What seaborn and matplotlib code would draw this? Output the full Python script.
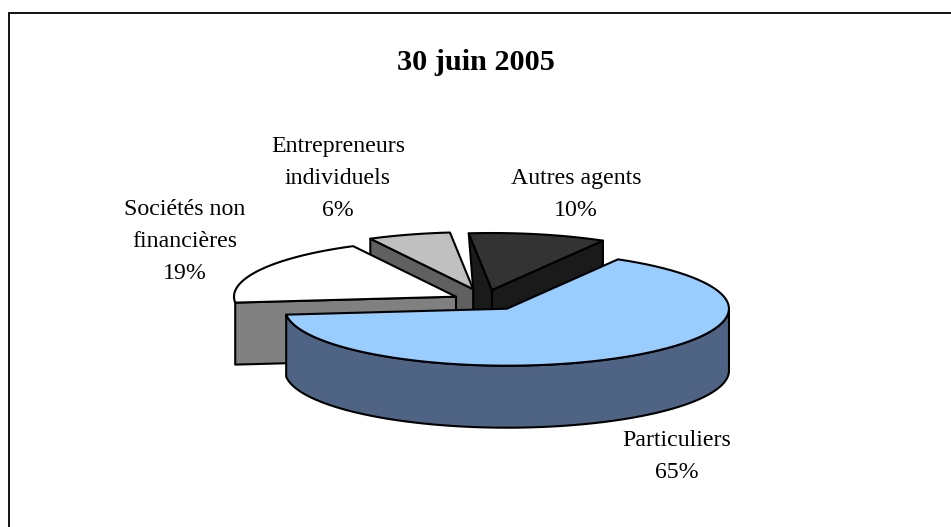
import numpy as np
import pandas as pd
import matplotlib
matplotlib.use("Agg")
import matplotlib.pyplot as plt
import seaborn as sns

labels = ["Particuliers", "Sociétés non\nfinancières", "Entrepreneurs\nindividuels", "Autres agents"]
shares = [65, 19, 6, 10]
title = "30 juin 2005"

top_colors = ["#99ccff", "#ffffff", "#c0c0c0", "#333333"]
rim_colors = ["#4f6484", "#808080", "#606060", "#1a1a1a"]

sns.set_theme(style="white")
plt.rcParams["font.family"] = ["Liberation Serif", "DejaVu Serif"]

df = pd.DataFrame({"label": labels, "share": shares, "top": top_colors, "rim": rim_colors})

# pie is squashed by hand, so axes are just figure pixels
cx, cy = 487.5, 301
ax_r, ay_r = 222, 57
depth = 62
explode = 0.161
start = 60.0

# each slice runs clockwise, first one goes through the front
ends = start - np.cumsum(df.share.values) * 3.6
starts = ends + df.share.values * 3.6
starts[1:] += 360
ends[1:] += 360
df["t0"] = starts
df["t1"] = ends
df["mid"] = np.radians((starts + ends) / 2)
# small slices sit a bit closer in than the explode alone gives
df["ox"] = cx + explode * ax_r * np.cos(df.mid) + np.array([0, 0, -4, -3])
df["oy"] = cy - explode * ay_r * np.sin(df.mid) + np.array([0, 0, -3, -2])


def rim(row, a, b):
    t = np.radians(np.linspace(a, b, 80))
    return np.c_[row.ox + ax_r * np.cos(t), row.oy - ay_r * np.sin(t)]


def down(pts):
    return pts + np.array([0, depth])


def face(ax, pts, color, z):
    ax.fill(pts[:, 0], pts[:, 1], facecolor=color, edgecolor="black", lw=1.5, joinstyle="round", zorder=z)


fig, ax = plt.subplots(figsize=(9.51, 5.27), dpi=100)
fig.subplots_adjust(0, 0, 1, 1)
ax.set_xlim(0, 951)
ax.set_ylim(527, 0)
ax.axis("off")

part, soc, ent, aut = [df.iloc[i] for i in range(4)]
apex = lambda r: np.array([[r.ox, r.oy]])

# autres agents, back slice
p = rim(aut, aut.t1, aut.t1)[:1]
face(ax, np.vstack([p, apex(aut), down(apex(aut)), down(p)]), aut.rim, 1)
p = rim(aut, aut.t0, aut.t0)[:1]
face(ax, np.vstack([p, apex(ent), down(apex(ent)), down(apex(aut)), apex(aut)]), aut.rim, 1)
face(ax, np.vstack([apex(aut), rim(aut, aut.t0, aut.t1)]), aut.top, 2)

# entrepreneurs
p = rim(ent, ent.t0, ent.t0)[:1]
face(ax, np.vstack([p, apex(ent), down(apex(ent)), down(p)]), ent.rim, 3)
face(ax, np.vstack([apex(ent), rim(ent, ent.t0, ent.t1)]), ent.top, 4)

# societes
p = rim(soc, soc.t0, soc.t0)[:1]
face(ax, np.vstack([p, apex(soc), down(apex(soc)), down(p)]), soc.rim, 5)
face(ax, np.vstack([apex(soc), rim(soc, soc.t0, soc.t1)]), soc.top, 6)

# particuliers, in front of all
front = rim(part, part.t1, 0)
face(ax, np.vstack([front, down(front)[::-1]]), part.rim, 7)
face(ax, np.vstack([apex(part), rim(part, part.t0, part.t1)]), part.top, 8)

# frame, only left and top show in the picture
ax.plot([9, 9, 951], [527, 13, 13], color="black", lw=1.3, solid_joinstyle="miter", zorder=0)

ax.text(476, 62, title, fontsize=21.8, fontweight="bold", ha="center", va="center", color="black")
ax.text(677, 456.5, f"{labels[0]}\n{shares[0]}%", fontsize=17.2, ha="center", va="center", linespacing=1.7, color="black")
ax.text(185, 241.5, f"{labels[1]}\n{shares[1]}%", fontsize=17.2, ha="center", va="center", linespacing=1.7, color="black")
ax.text(338, 178.5, f"{labels[2]}\n{shares[2]}%", fontsize=17.2, ha="center", va="center", linespacing=1.7, color="black")
ax.text(576, 194.5, f"{labels[3]}\n{shares[3]}%", fontsize=17.2, ha="center", va="center", linespacing=1.7, color="black")

fig.savefig("out.png", dpi=100, facecolor="white")
